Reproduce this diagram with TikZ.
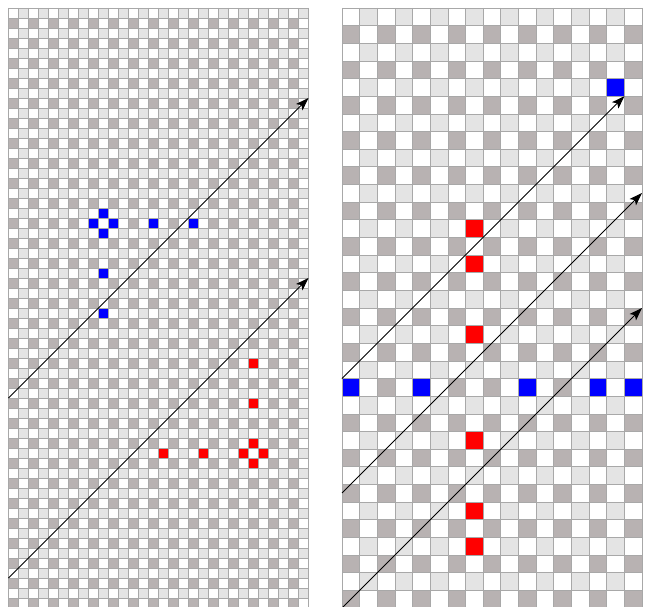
\documentclass[tikz,border=0pt]{standalone}
\usetikzlibrary{arrows.meta}
\definecolor{lightc}{HTML}{E4E4E4}
\definecolor{darkc}{HTML}{B8B2B2}
\definecolor{gridc}{HTML}{A8A8A8}
\definecolor{bluec}{HTML}{0000FF}
\definecolor{redc}{HTML}{FF0000}
\tikzset{
  gridline/.style={draw=gridc, line width=0.7pt},
  lightcell/.style={fill=lightc},
  darkcell/.style={fill=darkc},
  bluecell/.style={fill=bluec},
  redcell/.style={fill=redc},
  worldline/.style={draw=black, line width=0.9pt, -{Stealth[length=13pt,width=9pt,inset=3pt]}}
}
\begin{document}
\begin{tikzpicture}[x=1pt,y=-1pt]
\useasboundingbox (0,0) rectangle (649,607);
\fill[white] (0,0) rectangle (649,607);
% left panel
\begin{scope}[xshift=8.5pt, yshift=-8pt, x=10pt, y=-10pt]
  \fill[white] (0,0) rectangle (30,60);
  \foreach \i in {0,2,...,58} \foreach \j in {1,3,...,29} \fill[lightcell] (\j,\i) rectangle ++(1,1);
  \foreach \i in {1,3,...,59} \foreach \j in {0,2,...,28} \fill[darkcell] (\j,\i) rectangle ++(1,1);
  \foreach \a/\b in {9/20, 8/21, 10/21, 9/22, 14/21, 18/21, 9/26, 9/30} \fill[bluecell] (\a,\b) rectangle ++(1,1);
  \foreach \a/\b in {24/43, 23/44, 25/44, 24/45, 19/44, 15/44, 24/39, 24/35} \fill[redcell] (\a,\b) rectangle ++(1,1);
  \foreach \k in {0,...,30} \draw[gridline] (\k,0) -- (\k,60);
  \foreach \k in {0,...,60} \draw[gridline] (0,\k) -- (30,\k);
\end{scope}
% right panel
\begin{scope}[xshift=342pt, yshift=-8pt, x=17.647pt, y=-17.647pt]
  \fill[white] (0,0) rectangle (17,34);
  \foreach \i in {0,2,...,32} \foreach \j in {1,3,...,15} \fill[lightcell] (\j,\i) rectangle ++(1,1);
  \foreach \i in {1,3,...,33} \foreach \j in {0,2,...,16} \fill[darkcell] (\j,\i) rectangle ++(1,1);
  \foreach \a/\b in {0/21, 4/21, 10/21, 14/21, 16/21, 15/4} \fill[bluecell] (\a,\b) rectangle ++(1,1);
  \foreach \a/\b in {7/12, 7/14, 7/18, 7/24, 7/28, 7/30} \fill[redcell] (\a,\b) rectangle ++(1,1);
  \foreach \k in {0,...,17} \draw[gridline] (\k,0) -- (\k,34);
  \foreach \k in {0,...,34} \draw[gridline] (0,\k) -- (17,\k);
\end{scope}
% world lines
\coordinate (a1s) at (8.5,398);
\coordinate (a1e) at (308.5,98);
\coordinate (a2s) at (8.5,578);
\coordinate (a2e) at (308.5,278);
\coordinate (b1s) at (342,378.6);
\coordinate (b1e) at (624.4,96.2);
\coordinate (b2s) at (342,493);
\coordinate (b2e) at (642,193);
\coordinate (b3s) at (342,608);
\coordinate (b3e) at (642,308);
\draw[worldline] (a1s) -- (a1e);
\draw[worldline] (a2s) -- (a2e);
\draw[worldline] (b1s) -- (b1e);
\draw[worldline] (b2s) -- (b2e);
\draw[worldline] (b3s) -- (b3e);
\end{tikzpicture}
\end{document}
